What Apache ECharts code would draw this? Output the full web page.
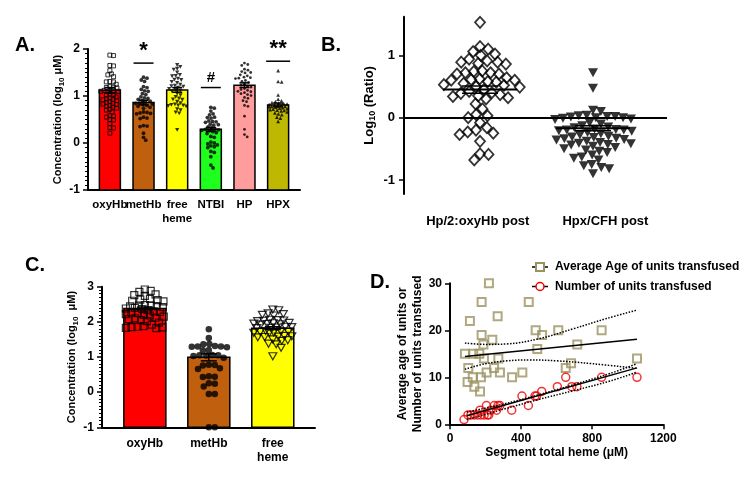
<!DOCTYPE html>
<html><head><meta charset="utf-8">
<script src="https://cdn.jsdelivr.net/npm/echarts@6/dist/echarts.min.js"></script>
<style>html,body{margin:0;padding:0;background:#fff}#c{width:750px;height:478px}</style>
</head><body><div id="c"></div><script>
// ---------------- DATA ----------------
// Panel A
const catsA = ['oxyHb', 'metHb', 'free\nheme', 'NTBI', 'HP', 'HPX'];
const meanA = [1.12, 0.86, 1.13, 0.29, 1.23, 0.81];
const semA  = [0.06, 0.05, 0.05, 0.04, 0.05, 0.04];
const oxyHbA = [1.87,1.86,1.65,1.64,1.54,1.47,1.45,1.41,1.31,1.30,1.30,1.25,1.20,1.19,1.18,1.17,1.12,1.12,1.11,1.10,1.10,1.04,1.03,1.02,0.98,0.96,0.94,0.93,0.92,0.90,0.88,0.86,0.84,0.83,0.82,0.80,0.78,0.76,0.74,0.72,0.70,0.66,0.58,0.57,0.55,0.50,0.49,0.41,0.33,0.32,0.21];
const metHbA = [1.40,1.38,1.34,1.31,1.20,1.18,1.14,1.11,1.10,1.05,1.03,0.98,0.96,0.95,0.93,0.90,0.89,0.87,0.85,0.84,0.83,0.82,0.80,0.78,0.76,0.74,0.66,0.65,0.64,0.63,0.62,0.55,0.53,0.52,0.37,0.36,0.35,0.21,0.12,0.06];
const freeHemeA = [1.66,1.62,1.58,1.56,1.50,1.45,1.43,1.42,1.37,1.35,1.34,1.30,1.28,1.24,1.22,1.21,1.20,1.18,1.15,1.13,1.12,1.10,1.05,1.02,0.98,0.95,0.93,0.92,0.88,0.85,0.82,0.81,0.80,0.80,0.79,0.78,0.72,0.70,0.65,0.63,0.28];
const ntbiA = [0.76,0.74,0.68,0.62,0.60,0.55,0.54,0.53,0.47,0.46,0.45,0.44,0.40,0.39,0.38,0.34,0.32,0.30,0.29,0.28,0.27,0.26,0.24,0.22,0.20,0.14,0.12,0.02,0.00,-0.02,-0.04,-0.06,-0.08,-0.10,-0.18,-0.20,-0.29,-0.47,-0.53];
const hpA = [1.70,1.67,1.65,1.57,1.55,1.52,1.50,1.49,1.45,1.43,1.40,1.39,1.38,1.37,1.33,1.31,1.29,1.25,1.23,1.21,1.19,1.16,1.14,1.12,1.10,1.09,1.07,1.05,1.03,1.01,0.97,0.95,0.90,0.88,0.80,0.78,0.57,0.29,0.18,0.13];
const hpxA = [1.54,1.31,1.30,1.02,0.93,0.90,0.88,0.86,0.85,0.84,0.83,0.82,0.81,0.80,0.79,0.78,0.78,0.77,0.76,0.75,0.74,0.73,0.72,0.71,0.70,0.69,0.68,0.66,0.64,0.62,0.60,0.55,0.53,0.46];
const sigTextA = ['', '*', '', '#', '', '**'];
const sigLineA = [null, 1.70, null, 1.18, null, 1.74];

// Panel B
const catsB = ['Hp/2:oxyHb post', 'Hpx/CFH post'];
const hpOxyB = [1.53,1.14,1.10,1.06,1.02,1.00,0.94,0.91,0.89,0.89,0.87,0.86,0.75,0.74,0.72,0.72,0.70,0.70,0.64,0.62,0.61,0.60,0.60,0.58,0.57,0.55,0.53,0.52,0.50,0.49,0.45,0.42,0.40,0.39,0.37,0.35,0.34,0.32,0.30,0.22,0.14,0.05,0.03,0.00,-0.08,-0.16,-0.20,-0.23,-0.25,-0.27,-0.38,-0.58,-0.59,-0.68];
const hpxCfhB = [0.72,0.47,0.12,0.10,0.04,0.03,0.02,0.02,0.01,0.00,0.00,-0.01,-0.02,-0.03,-0.08,-0.10,-0.13,-0.15,-0.16,-0.18,-0.19,-0.20,-0.20,-0.21,-0.22,-0.24,-0.26,-0.28,-0.30,-0.31,-0.32,-0.33,-0.34,-0.35,-0.36,-0.38,-0.40,-0.41,-0.42,-0.43,-0.44,-0.46,-0.48,-0.50,-0.52,-0.54,-0.56,-0.60,-0.63,-0.65,-0.68,-0.75,-0.77,-0.80,-0.82,-0.90];
const meanB = [0.45, -0.17];
const semB  = [0.06, 0.04];
const yTicksB = [-1, 0, 1];

// Panel C
const catsC = ['oxyHb', 'metHb', 'free\nheme'];
const meanC = [2.38, 0.99, 1.82];
const semC  = [0.04, 0.10, 0.04];
const oxyHbC = [2.92,2.88,2.85,2.78,2.76,2.74,2.65,2.63,2.62,2.60,2.58,2.48,2.47,2.46,2.45,2.44,2.42,2.40,2.38,2.36,2.33,2.30,2.28,2.26,2.25,2.22,2.20,2.18,2.15,2.12,2.10,2.08,2.05,2.02,1.98,1.92,1.88,1.86,1.85,1.84,1.83,1.82];
const metHbC = [1.79,1.54,1.37,1.36,1.31,1.30,1.30,1.29,1.28,1.20,1.19,1.06,1.05,1.05,1.04,1.03,0.98,0.78,0.77,0.76,0.68,0.66,0.45,0.44,0.43,0.25,0.24,0.16,-0.05,-0.05,-1.0,-1.0];
const freeHemeC = [2.35,2.33,2.24,2.22,2.20,2.18,2.06,2.05,2.04,2.03,2.02,1.97,1.96,1.95,1.94,1.93,1.92,1.86,1.85,1.84,1.83,1.82,1.74,1.73,1.72,1.71,1.70,1.69,1.68,1.60,1.59,1.58,1.57,1.56,1.50,1.48,1.46,1.38,1.36,1.26,1.02];

// Panel D
const seriesNamesD = ['Average Age of units transfused', 'Number of units transfused'];
const ageD = [[84,15],[103,12],[99,9],[112,22],[131,15],[128,10],[137,8],[165,15],[169,7],[174,10],[178,26],[178,19],[188,17],[191,14],[206,11],[219,30],[238,18],[248,12],[268,23],[272,14],[281,11],[349,10],[407,11],[443,26],[482,20],[491,16],[518,19],[609,20],[651,12],[681,13],[716,17],[853,20],[1052,14]];
const unitsD = [[79,1],[101,2],[118,2],[136,2],[155,2],[169,3],[174,2],[192,2],[205,4],[210,2],[218,2],[230,3],[249,4],[262,3],[270,4],[281,4],[347,3],[405,6],[441,4],[478,6],[487,6],[516,7],[604,8],[651,10],[685,8],[714,8],[853,10],[1052,10]];
const ageFitD = [[84,14.4],[1052,18.1]];
const ageUpperD = [[84,17.3],[200,17.0],[320,17.1],[500,18.2],[700,20.4],[880,22.5],[1052,24.3]];
const ageLowerD = [[84,11.7],[200,12.9],[320,13.5],[450,13.7],[600,13.5],[800,12.9],[1052,11.9]];
const unitsFitD = [[94,1.8],[1052,12.0]];
const unitsUpperD = [[94,2.6],[300,4.3],[500,6.3],[700,8.5],[900,10.8],[1052,12.9]];
const unitsLowerD = [[94,1.0],[300,3.2],[500,5.3],[700,7.2],[900,9.2],[1052,11.1]];

// ---------------- LAYOUT / STYLE ----------------
const FONT = '"Liberation Sans", Arial, sans-serif';
const gA = {left: 88, top: 49, width: 212, height: 141}, xRA = [-0.65, 5.65], yRA = [-1, 2];
const gB = {left: 404, top: 16.7, width: 263, height: 177.3}, xRB = [-0.673, 1.655], yRB = [-1.225, 1.62];
const gC = {left: 102, top: 286.7, width: 213, height: 140.6}, xRC = [-0.67, 2.66], yRC = [-1, 3];
const gD = {left: 450, top: 283.3, width: 213.3, height: 141}, xRD = [0, 1200], yRD = [0, 30];
const colorsA = ['#FF0000', '#C0600E', '#FFFF00', '#1EFF1E', '#FF9C9C', '#BFB800'];
const colorsC = ['#FF0000', '#C0600E', '#FFFF00'];
const olive = '#9B9260', red = '#F00000';

function ppu(g, xr, yr) { return [g.width / (xr[1] - xr[0]), g.height / (yr[1] - yr[0])]; }

// simple beeswarm layout: horizontal pixel offsets limiting marker overlap
function swarm(vals, pyPerUnit, diam, maxHalf) {
  const order = vals.map((v, i) => i).sort((a, b) => vals[b] - vals[a]);
  const placed = [], off = new Array(vals.length);
  for (const i of order) {
    const y = vals[i] * pyPerUnit;
    const near = placed.filter(p => Math.abs(p.y - y) < diam);
    const cands = [0];
    near.forEach(p => { const dx = Math.sqrt(diam * diam - (p.y - y) ** 2); cands.push(p.x + dx, p.x - dx); });
    const ok = cands.filter(c => Math.abs(c) <= maxHalf && near.every(p => (p.x - c) ** 2 + (p.y - y) ** 2 >= diam * diam - 0.01));
    ok.sort((a, b) => Math.abs(a) - Math.abs(b) || b - a);
    let x;
    if (ok.length) x = ok[0];
    else {
      let best = 0, bestD = -1;
      for (let c = -maxHalf; c <= maxHalf + 1e-9; c += 0.5) {
        const d = Math.min(...near.map(p => (p.x - c) ** 2 + (p.y - y) ** 2));
        if (d > bestD + 1e-6) { bestD = d; best = c; }
      }
      x = best;
    }
    placed.push({x, y}); off[i] = x;
  }
  return off;
}
function swarmData(vals, gi, g, xr, yr, diam, maxHalf) {
  const [px, py] = ppu(g, xr, yr);
  const off = swarm(vals, py, diam, maxHalf);
  return vals.map((v, i) => [gi + off[i] / px, v]);
}

const txt = {color: '#000', fontWeight: 'bold', fontFamily: FONT};
const axLine = {show: true, onZero: false, lineStyle: {color: '#000', width: 2}};
const tick = {show: true, length: 5, lineStyle: {color: '#000', width: 1.5}};

function barRender(halfW, colors, base) {
  return function (params, api) {
    const i = api.value(0), v = api.value(1);
    const t = api.coord([i, v]), b = api.coord([i, base]);
    return {type: 'rect', shape: {x: t[0] - halfW, y: t[1], width: 2 * halfW, height: b[1] - t[1]},
      style: {fill: colors[params.dataIndex], stroke: '#000', lineWidth: 1.5}};
  };
}
function errRender(capW, meanHalf) {
  return function (params, api) {
    const i = api.value(0), m = api.value(1), s = api.value(2);
    const a = api.coord([i, m + s]), b = api.coord([i, m - s]), c = api.coord([i, m]);
    const st = {stroke: '#000', lineWidth: 1.5};
    const ch = [
      {type: 'line', shape: {x1: a[0], y1: a[1], x2: b[0], y2: b[1]}, style: st},
      {type: 'line', shape: {x1: a[0] - capW, y1: a[1], x2: a[0] + capW, y2: a[1]}, style: st},
      {type: 'line', shape: {x1: b[0] - capW, y1: b[1], x2: b[0] + capW, y2: b[1]}, style: st}
    ];
    if (meanHalf) ch.push({type: 'line', shape: {x1: c[0] - meanHalf, y1: c[1], x2: c[0] + meanHalf, y2: c[1]}, style: {stroke: '#000', lineWidth: 2}});
    return {type: 'group', children: ch};
  };
}

const chart = echarts.init(document.getElementById('c'), null, {renderer: 'canvas'});
const grids = [gA, gB, gC, gD].map(g => Object.assign({containLabel: false, outerBoundsMode: 'none'}, g));

const option = {
  animation: false,
  backgroundColor: '#fff',
  grid: grids,
  xAxis: [
    {gridIndex: 0, type: 'value', min: xRA[0], max: xRA[1], axisLine: axLine, axisTick: {show: false}, splitLine: {show: false},
      axisLabel: {show: false}},
    {gridIndex: 1, type: 'value', min: xRB[0], max: xRB[1], axisLine: {show: false}, axisTick: {show: false}, splitLine: {show: false},
      axisLabel: Object.assign({customValues: [-0.02, 1.11], formatter: v => catsB[v < 0.5 ? 0 : 1], margin: 21, fontSize: 13,
        showMinLabel: true, showMaxLabel: true}, txt)},
    {gridIndex: 2, type: 'value', min: xRC[0], max: xRC[1], axisLine: axLine, axisTick: {show: false}, splitLine: {show: false},
      axisLabel: Object.assign({customValues: catsC.map((c, i) => i), formatter: v => catsC[Math.round(v)], margin: 9, fontSize: 12, lineHeight: 14,
        showMinLabel: true, showMaxLabel: true}, txt)},
    {gridIndex: 3, type: 'value', min: xRD[0], max: xRD[1], interval: 400, axisLine: axLine, axisTick: tick, splitLine: {show: false},
      axisLabel: Object.assign({margin: 8, fontSize: 12, formatter: v => String(v)}, txt),
      name: 'Segment total heme (μM)', nameLocation: 'middle', nameGap: 22, nameTextStyle: Object.assign({fontSize: 12}, txt)}
  ],
  yAxis: [
    {gridIndex: 0, type: 'value', min: yRA[0], max: yRA[1], interval: 1, axisLine: axLine, axisTick: tick,
      minorTick: {show: true, splitNumber: 10, length: 3, lineStyle: {color: '#000', width: 1}}, splitLine: {show: false}, minorSplitLine: {show: false},
      axisLabel: Object.assign({margin: 8, fontSize: 12}, txt),
      name: '{a|Concentration (log}{s|10}{a| μM)}', nameLocation: 'middle', nameRotate: 90, nameGap: 20,
      nameTextStyle: {rich: {a: Object.assign({fontSize: 11, lineHeight: 14}, txt), s: Object.assign({fontSize: 8, lineHeight: 14, verticalAlign: 'bottom'}, txt)}}},
    {gridIndex: 1, type: 'value', min: yRB[0], max: yRB[1], axisLine: axLine,
      axisTick: Object.assign({customValues: yTicksB}, tick), splitLine: {show: false},
      axisLabel: Object.assign({customValues: yTicksB, margin: 9, fontSize: 13}, txt),
      name: '{a|Log}{s|10}{a| (Ratio)}', nameLocation: 'middle', nameRotate: 90, nameGap: 27,
      nameTextStyle: {rich: {a: Object.assign({fontSize: 13, lineHeight: 16}, txt), s: Object.assign({fontSize: 9, lineHeight: 16, verticalAlign: 'bottom'}, txt)}}},
    {gridIndex: 2, type: 'value', min: yRC[0], max: yRC[1], interval: 1, axisLine: axLine, axisTick: tick,
      minorTick: {show: true, splitNumber: 10, length: 3, lineStyle: {color: '#000', width: 1}}, splitLine: {show: false}, minorSplitLine: {show: false},
      axisLabel: Object.assign({margin: 8, fontSize: 12}, txt),
      name: '{a|Concentration (log}{s|10}{a|  μM)}', nameLocation: 'middle', nameRotate: 90, nameGap: 17,
      nameTextStyle: {rich: {a: Object.assign({fontSize: 11, lineHeight: 14}, txt), s: Object.assign({fontSize: 8, lineHeight: 14, verticalAlign: 'bottom'}, txt)}}},
    {gridIndex: 3, type: 'value', min: yRD[0], max: yRD[1], interval: 10, axisLine: axLine, axisTick: tick, splitLine: {show: false},
      axisLabel: Object.assign({margin: 8, fontSize: 12}, txt),
      name: 'Average age of units or\nNumber of units transfused', nameLocation: 'middle', nameRotate: 90, nameGap: 18,
      nameTextStyle: Object.assign({fontSize: 12, lineHeight: 15}, txt)}
  ],
  series: []
};

const S = option.series;
// Panel A
S.push({type: 'custom', xAxisIndex: 0, yAxisIndex: 0, z: 1, clip: false, renderItem: barRender(10.5, colorsA, yRA[0]), data: meanA.map((m, i) => [i, m])});
const symA = [
  {symbol: 'rect', symbolSize: 4, itemStyle: {color: 'rgba(0,0,0,0)', borderColor: '#000', borderWidth: 1}},
  {symbol: 'circle', symbolSize: 3.8, itemStyle: {color: '#000'}},
  {symbol: 'triangle', symbolSize: [4.2, 3.8], symbolRotate: 180, itemStyle: {color: '#000'}},
  {symbol: 'circle', symbolSize: 3.8, itemStyle: {color: '#000'}},
  {symbol: 'circle', symbolSize: 2.8, itemStyle: {color: '#000'}},
  {symbol: 'triangle', symbolSize: [3.8, 3.6], itemStyle: {color: '#000'}}
];
[oxyHbA, metHbA, freeHemeA, ntbiA, hpA, hpxA].forEach((vals, i) => {
  S.push(Object.assign({type: 'scatter', xAxisIndex: 0, yAxisIndex: 0, z: 3, silent: true,
    data: swarmData(vals, i, gA, xRA, yRA, 3.6, 9)}, symA[i]));
});
S.push({type: 'custom', xAxisIndex: 0, yAxisIndex: 0, z: 4, clip: false, renderItem: errRender(5, 0), data: meanA.map((m, i) => [i, m, semA[i]])});

// Panel B
S.push({type: 'scatter', xAxisIndex: 1, yAxisIndex: 1, z: 3, silent: true, symbol: 'diamond', symbolSize: [10, 11],
  itemStyle: {color: 'rgba(0,0,0,0)', borderColor: '#000', borderWidth: 1.8},
  data: swarmData(hpOxyB, 0, gB, xRB, yRB, 8.5, 40),
  markLine: {silent: true, symbol: 'none', label: {show: false}, lineStyle: {color: '#000', width: 2, type: 'solid'}, data: [{yAxis: 0}]}});
S.push({type: 'scatter', xAxisIndex: 1, yAxisIndex: 1, z: 3, silent: true, symbol: 'triangle', symbolSize: [10, 9], symbolRotate: 180,
  itemStyle: {color: '#000'}, data: swarmData(hpxCfhB, 1, gB, xRB, yRB, 8, 42)});
S.push({type: 'custom', xAxisIndex: 1, yAxisIndex: 1, z: 4, clip: false, renderItem: errRender(18, 37), data: meanB.map((m, i) => [i, m, semB[i]])});

// Panel C
S.push({type: 'custom', xAxisIndex: 2, yAxisIndex: 2, z: 1, clip: false, renderItem: barRender(21, colorsC, yRC[0]), data: meanC.map((m, i) => [i, m])});
const symC = [
  {symbol: 'rect', symbolSize: 7, itemStyle: {color: 'rgba(0,0,0,0)', borderColor: '#000', borderWidth: 1.2}},
  {symbol: 'circle', symbolSize: 6.5, itemStyle: {color: '#000'}},
  {symbol: 'triangle', symbolSize: [8, 7], symbolRotate: 180, itemStyle: {color: 'rgba(0,0,0,0)', borderColor: '#000', borderWidth: 1.2}}
];
[oxyHbC, metHbC, freeHemeC].forEach((vals, i) => {
  S.push(Object.assign({type: 'scatter', xAxisIndex: 2, yAxisIndex: 2, z: 3, silent: true,
    data: swarmData(vals, i, gC, xRC, yRC, 6, 19)}, symC[i]));
});
S.push({type: 'custom', xAxisIndex: 2, yAxisIndex: 2, z: 4, clip: false, renderItem: errRender(8, 0), data: meanC.map((m, i) => [i, m, semC[i]])});

// Panel D
S.push({name: seriesNamesD[0], type: 'scatter', xAxisIndex: 3, yAxisIndex: 3, z: 3, silent: true, symbol: 'rect', symbolSize: 8,
  itemStyle: {color: 'rgba(0,0,0,0)', borderColor: olive, borderWidth: 2}, data: ageD});
S.push({name: seriesNamesD[1], type: 'scatter', xAxisIndex: 3, yAxisIndex: 3, z: 3, silent: true, symbol: 'circle', symbolSize: 8,
  itemStyle: {color: 'rgba(0,0,0,0)', borderColor: red, borderWidth: 1.5}, data: unitsD});
const lineD = (data, dotted) => ({type: 'line', xAxisIndex: 3, yAxisIndex: 3, z: 4, silent: true, showSymbol: false, symbol: 'none',
  smooth: dotted ? 0.4 : false, lineStyle: {color: '#000', width: 1.5, type: dotted ? 'dotted' : 'solid'}, data});
S.push(lineD(ageFitD, false), lineD(ageUpperD, true), lineD(ageLowerD, true));
S.push(lineD(unitsFitD, false), lineD(unitsUpperD, true), lineD(unitsLowerD, true));

chart.setOption(option);

// --------- annotations (panel letters, A category labels, significance marks, legend D) ---------
const gr = [];
const panelLbl = (t, x, y) => ({type: 'text', x, y, style: {text: t, fontSize: 20, textVerticalAlign: 'middle', fill: '#000', fontWeight: 'bold', fontFamily: FONT}});
gr.push(panelLbl('A.', 15, 45), panelLbl('B.', 321, 45), panelLbl('C.', 25, 265), panelLbl('D.', 370, 282));
catsA.forEach((c, i) => {
  const p = chart.convertToPixel({gridIndex: 0}, [i, yRA[0]]);
  gr.push({type: 'text', x: p[0], y: p[1] + 8, style: {text: c, fill: '#000', fontWeight: 'bold', fontFamily: FONT, fontSize: 11.5,
    lineHeight: 14, textAlign: 'center', textVerticalAlign: 'top'}});
});
sigTextA.forEach((t, i) => {
  if (!t) return;
  const p = chart.convertToPixel({gridIndex: 0}, [i, sigLineA[i]]);
  const halfW = t === '**' ? 12 : 10;
  gr.push({type: 'line', shape: {x1: p[0] - halfW, y1: p[1], x2: p[0] + halfW, y2: p[1]}, style: {stroke: '#000', lineWidth: 1.5}});
  const isHash = t === '#';
  gr.push({type: 'text', x: p[0], y: isHash ? p[1] - 10 : p[1] - 1, style: {text: t, fill: '#000', fontWeight: 'bold', fontFamily: FONT,
    fontSize: isHash ? 15 : 22, textAlign: 'center', textVerticalAlign: isHash ? 'middle' : 'bottom'}});
});
// legend D
const legD = [[olive, 'rect', seriesNamesD[0], 267], [red, 'circle', seriesNamesD[1], 286.5]];
legD.forEach(([col, shp, name, y]) => {
  gr.push({type: 'line', shape: {x1: 532, y1: y, x2: 548, y2: y}, style: {stroke: '#000', lineWidth: 1.5}});
  if (shp === 'rect') gr.push({type: 'rect', shape: {x: 536, y: y - 4, width: 8, height: 8}, style: {fill: '#fff', stroke: col, lineWidth: 2}});
  else gr.push({type: 'circle', shape: {cx: 540, cy: y, r: 4}, style: {fill: '#fff', stroke: col, lineWidth: 1.5}});
  gr.push({type: 'text', x: 555, y, style: {text: name, fill: '#000', fontWeight: 'bold', fontFamily: FONT, fontSize: 12, textVerticalAlign: 'middle'}});
});
chart.setOption({graphic: gr});
</script></body></html>
